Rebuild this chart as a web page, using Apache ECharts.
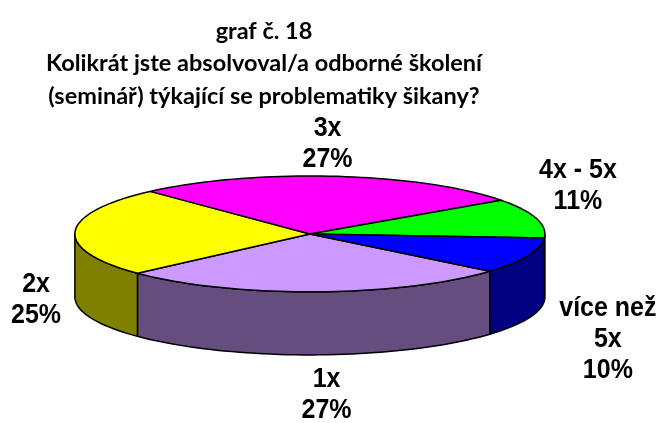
<!DOCTYPE html>
<html>
<head>
<meta charset="utf-8">
<script src="https://cdn.jsdelivr.net/npm/echarts@6/dist/echarts.min.js"></script>
<style>
  html, body { margin: 0; padding: 0; background: #fff; }
  #chart { width: 665px; height: 423px; }
</style>
</head>
<body>
<div id="chart"></div>
<script>
// data
const categories = ['1x', '2x', '3x', '4x - 5x', 'více než\n5x']
const values = [27, 25, 27, 11, 10]
const titleLines = ['graf č. 18', 'Kolikrát jste absolvoval/a odborné školení', '(seminář) týkající se problematiky šikany?']

// looks
const topColors = ['#CC99FF', '#FFFF00', '#FF00FF', '#00FF00', '#0000FF']
const sideColors = ['#664D80', '#808000', '#800080', '#008000', '#000080']
const labelFont = 'bold 25px "Liberation Sans", Arial, sans-serif'
const labelStretch = 1.1 // excel drew the labels a bit taller than wide
const labelStep = 31 // line spacing on screen
// hand nudges, excel moved some labels around
const labelNudge = { '1x': [10, -5], '2x': [0, 70], '3x': [-10, 12], '4x - 5x': [-9, -20], 'více než\n5x': [22, -2] }
const startDeg = 40

const total = values.reduce((a, b) => a + b, 0)
const cum = []
values.reduce((acc, v, i) => { cum[i] = acc; return acc + v }, 0)

const ctx = document.createElement('canvas').getContext('2d')
ctx.font = labelFont
const textWidth = (s) => Math.max(...s.split('\n').map((l) => ctx.measureText(l).width))

const rad = (d) => d * Math.PI / 180

function arc(cx, cy, rx, ry, a0, a1, dy) {
  const pts = []
  const n = Math.max(2, Math.ceil(Math.abs(a1 - a0) / 2))
  for (let k = 0; k <= n; k++) {
    const a = rad(a0 + (a1 - a0) * k / n)
    pts.push([cx + rx * Math.cos(a), cy + ry * Math.sin(a) + dy])
  }
  return pts
}

function renderItem(params, api) {
  const i = params.dataIndex
  const w = api.getWidth()
  const h = api.getHeight()
  const cx = w * 0.466
  const cy = h * 0.553
  const rx = w * 0.3534
  const ry = h * 0.137
  const depth = h * 0.149

  const a0 = startDeg + 360 * cum[i] / total
  const a1 = a0 + 360 * api.value(0) / total
  const children = []

  // visible side wall = part of the slice in the front half
  ;[-360, 0, 360].forEach((k) => {
    const s = Math.max(a0, k)
    const e = Math.min(a1, k + 180)
    if (e > s) {
      const pts = arc(cx, cy, rx, ry, s, e, 0).concat(arc(cx, cy, rx, ry, e, s, depth))
      children.push({
        type: 'polygon',
        z2: 1,
        shape: { points: pts },
        style: { fill: sideColors[i], stroke: '#000', lineWidth: 1.5, lineJoin: 'round' }
      })
    }
  })

  // top face
  children.push({
    type: 'polygon',
    z2: 2,
    shape: { points: [[cx, cy]].concat(arc(cx, cy, rx, ry, a0, a1, 0)) },
    style: { fill: topColors[i], stroke: '#000', lineWidth: 1.5, lineJoin: 'round' }
  })

  // label outside the slice
  const name = categories[i]
  const text = name + '\n' + Math.round(100 * api.value(0) / total) + '%'
  const m = rad((a0 + a1) / 2)
  const c = Math.cos(m)
  const s = Math.sin(m)
  const halfW = textWidth(text) / 2
  const halfH = text.split('\n').length * labelStep / 2
  const pad = 14
  const nudge = labelNudge[name] || [0, 0]
  const lx = cx + (rx + pad) * c + halfW * c + nudge[0]
  const ly = cy + (ry + pad) * s + (s > 0 ? depth : 0) + halfH * s + nudge[1]
  children.push({
    type: 'text',
    z2: 3,
    x: lx,
    y: ly,
    scaleY: labelStretch,
    style: {
      text: text,
      font: labelFont,
      fill: '#000',
      align: 'center',
      verticalAlign: 'middle',
      lineHeight: labelStep / labelStretch
    }
  })

  return { type: 'group', children: children }
}

const chart = echarts.init(document.getElementById('chart'))

chart.setOption({
  animation: false,
  backgroundColor: '#fff',
  title: {
    text: titleLines.join('\n'),
    left: 259,
    top: 10,
    textAlign: 'center',
    textStyle: {
      fontFamily: 'Lato, "Noto Sans", sans-serif',
      fontWeight: 'bold',
      fontSize: 23.5,
      lineHeight: 32.5,
      color: '#000'
    }
  },
  series: [
    {
      type: 'custom',
      coordinateSystem: 'none',
      renderItem: renderItem,
      data: values.map((v, i) => ({ name: categories[i], value: [v] }))
    }
  ]
})
</script>
</body>
</html>
